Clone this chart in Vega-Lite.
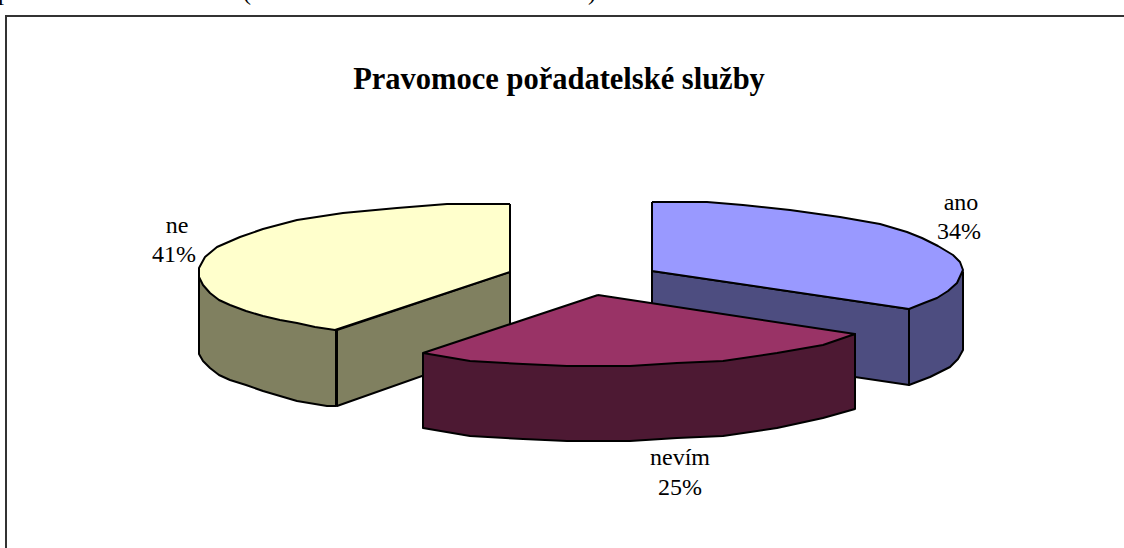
{"$schema":"https://vega.github.io/schema/vega-lite/v6.json","width":1124,"height":548,"autosize":{"type":"none"},"padding":0,"background":"white","view":{"stroke":null},
"datasets":{"shapes":[
{"p":"ne inner","f":"ne side","s":1,"x":337,"y":330},{"p":"ne inner","f":"ne side","s":2,"x":510,"y":272},{"p":"ne inner","f":"ne side","s":3,"x":510,"y":345},{"p":"ne inner","f":"ne side","s":4,"x":337,"y":406},{"p":"ne inner","f":"ne side","s":5,"x":337,"y":330},
{"p":"ne outer","f":"ne side","s":1,"x":199,"y":268},{"p":"ne outer","f":"ne side","s":2,"x":199,"y":354},{"p":"ne outer","f":"ne side","s":3,"x":203,"y":361},{"p":"ne outer","f":"ne side","s":4,"x":210,"y":368},{"p":"ne outer","f":"ne side","s":5,"x":219,"y":375},{"p":"ne outer","f":"ne side","s":6,"x":230,"y":380},{"p":"ne outer","f":"ne side","s":7,"x":246,"y":385},{"p":"ne outer","f":"ne side","s":8,"x":263,"y":391},{"p":"ne outer","f":"ne side","s":9,"x":280,"y":396},{"p":"ne outer","f":"ne side","s":10,"x":297,"y":401},{"p":"ne outer","f":"ne side","s":11,"x":327,"y":406},{"p":"ne outer","f":"ne side","s":12,"x":336,"y":406},{"p":"ne outer","f":"ne side","s":13,"x":336,"y":330},{"p":"ne outer","f":"ne side","s":14,"x":199,"y":268},
{"p":"ne top","f":"ne top","s":1,"x":510,"y":204},{"p":"ne top","f":"ne top","s":2,"x":510,"y":272},{"p":"ne top","f":"ne top","s":3,"x":335,"y":330},{"p":"ne top","f":"ne top","s":4,"x":315,"y":327},{"p":"ne top","f":"ne top","s":5,"x":297,"y":323},{"p":"ne top","f":"ne top","s":6,"x":280,"y":320},{"p":"ne top","f":"ne top","s":7,"x":263,"y":316},{"p":"ne top","f":"ne top","s":8,"x":246,"y":311},{"p":"ne top","f":"ne top","s":9,"x":230,"y":305},{"p":"ne top","f":"ne top","s":10,"x":219,"y":300},{"p":"ne top","f":"ne top","s":11,"x":210,"y":293},{"p":"ne top","f":"ne top","s":12,"x":203,"y":285},{"p":"ne top","f":"ne top","s":13,"x":199,"y":277},{"p":"ne top","f":"ne top","s":14,"x":199,"y":268},{"p":"ne top","f":"ne top","s":15,"x":205,"y":257},{"p":"ne top","f":"ne top","s":16,"x":217,"y":247},{"p":"ne top","f":"ne top","s":17,"x":240,"y":237},{"p":"ne top","f":"ne top","s":18,"x":263,"y":229},{"p":"ne top","f":"ne top","s":19,"x":297,"y":220},{"p":"ne top","f":"ne top","s":20,"x":343,"y":213},{"p":"ne top","f":"ne top","s":21,"x":397,"y":208},{"p":"ne top","f":"ne top","s":22,"x":447,"y":204},{"p":"ne top","f":"ne top","s":23,"x":510,"y":204},
{"p":"ano inner","f":"ano side","s":1,"x":652,"y":271},{"p":"ano inner","f":"ano side","s":2,"x":909,"y":309},{"p":"ano inner","f":"ano side","s":3,"x":909,"y":385},{"p":"ano inner","f":"ano side","s":4,"x":652,"y":347},{"p":"ano inner","f":"ano side","s":5,"x":652,"y":271},
{"p":"ano outer","f":"ano side","s":1,"x":909,"y":309},{"p":"ano outer","f":"ano side","s":2,"x":963,"y":272},{"p":"ano outer","f":"ano side","s":3,"x":963,"y":350},{"p":"ano outer","f":"ano side","s":4,"x":958,"y":359},{"p":"ano outer","f":"ano side","s":5,"x":950,"y":367},{"p":"ano outer","f":"ano side","s":6,"x":930,"y":377},{"p":"ano outer","f":"ano side","s":7,"x":909,"y":385},{"p":"ano outer","f":"ano side","s":8,"x":909,"y":309},
{"p":"ano top","f":"ano top","s":1,"x":652,"y":202},{"p":"ano top","f":"ano top","s":2,"x":707,"y":202},{"p":"ano top","f":"ano top","s":3,"x":743,"y":205},{"p":"ano top","f":"ano top","s":4,"x":790,"y":210},{"p":"ano top","f":"ano top","s":5,"x":840,"y":217},{"p":"ano top","f":"ano top","s":6,"x":880,"y":224},{"p":"ano top","f":"ano top","s":7,"x":907,"y":232},{"p":"ano top","f":"ano top","s":8,"x":922,"y":238},{"p":"ano top","f":"ano top","s":9,"x":938,"y":246},{"p":"ano top","f":"ano top","s":10,"x":953,"y":255},{"p":"ano top","f":"ano top","s":11,"x":960,"y":262},{"p":"ano top","f":"ano top","s":12,"x":963,"y":270},{"p":"ano top","f":"ano top","s":13,"x":957,"y":283},{"p":"ano top","f":"ano top","s":14,"x":948,"y":291},{"p":"ano top","f":"ano top","s":15,"x":937,"y":298},{"p":"ano top","f":"ano top","s":16,"x":924,"y":303},{"p":"ano top","f":"ano top","s":17,"x":909,"y":309},{"p":"ano top","f":"ano top","s":18,"x":652,"y":271},{"p":"ano top","f":"ano top","s":19,"x":652,"y":202},
{"p":"nevim side","f":"nevim side","s":1,"x":423,"y":353},{"p":"nevim side","f":"nevim side","s":2,"x":423,"y":428},{"p":"nevim side","f":"nevim side","s":3,"x":470,"y":436},{"p":"nevim side","f":"nevim side","s":4,"x":523,"y":439},{"p":"nevim side","f":"nevim side","s":5,"x":567,"y":441},{"p":"nevim side","f":"nevim side","s":6,"x":630,"y":441},{"p":"nevim side","f":"nevim side","s":7,"x":677,"y":438},{"p":"nevim side","f":"nevim side","s":8,"x":723,"y":436},{"p":"nevim side","f":"nevim side","s":9,"x":777,"y":428},{"p":"nevim side","f":"nevim side","s":10,"x":823,"y":418},{"p":"nevim side","f":"nevim side","s":11,"x":855,"y":409},{"p":"nevim side","f":"nevim side","s":12,"x":855,"y":334},{"p":"nevim side","f":"nevim side","s":13,"x":423,"y":353},
{"p":"nevim top","f":"nevim top","s":1,"x":598,"y":295},{"p":"nevim top","f":"nevim top","s":2,"x":855,"y":334},{"p":"nevim top","f":"nevim top","s":3,"x":823,"y":345},{"p":"nevim top","f":"nevim top","s":4,"x":777,"y":353},{"p":"nevim top","f":"nevim top","s":5,"x":723,"y":361},{"p":"nevim top","f":"nevim top","s":6,"x":677,"y":363},{"p":"nevim top","f":"nevim top","s":7,"x":630,"y":366},{"p":"nevim top","f":"nevim top","s":8,"x":567,"y":366},{"p":"nevim top","f":"nevim top","s":9,"x":523,"y":364},{"p":"nevim top","f":"nevim top","s":10,"x":470,"y":361},{"p":"nevim top","f":"nevim top","s":11,"x":423,"y":353},{"p":"nevim top","f":"nevim top","s":12,"x":598,"y":295}
],
"labels":[{"t":"ne","x":177,"y":226},{"t":"41%","x":174,"y":255},{"t":"ano","x":961,"y":203},{"t":"34%","x":959,"y":232},{"t":"nevím","x":680,"y":458},{"t":"25%","x":680,"y":488}],
"cut":[{"t":"p","x":4,"y":0},{"t":"(","x":247,"y":0},{"t":")","x":592,"y":0}],
"frame":[{"s":1,"x":6,"y":548},{"s":2,"x":6,"y":16},{"s":3,"x":1124,"y":16}],
"title":[{"t":"Pravomoce pořadatelské služby","x":559,"y":80}]},
"encoding":{"x":{"field":"x","type":"quantitative","scale":{"domain":[0,1124],"nice":false,"zero":false},"axis":null},"y":{"field":"y","type":"quantitative","scale":{"domain":[548,0],"nice":false,"zero":false},"axis":null}},
"layer":[
{"data":{"name":"frame"},"mark":{"type":"line","stroke":"#333333","strokeWidth":2,"clip":false},"encoding":{"order":{"field":"s","type":"ordinal"}}},
{"data":{"name":"shapes"},"mark":{"type":"line","filled":true,"stroke":"#000000","strokeWidth":2,"strokeJoin":"round"},"encoding":{"detail":{"field":"p"},"order":{"field":"s","type":"quantitative"},"color":{"field":"f","type":"nominal","legend":null,"scale":{"domain":["ne side","ne top","ano side","ano top","nevim side","nevim top"],"range":["#808060","#FFFFCC","#4D4D80","#9999FF","#4D1933","#993366"]}}}},
{"data":{"name":"labels"},"mark":{"type":"text","font":"Liberation Serif","fontSize":24,"baseline":"middle","align":"center","color":"#000000"},"encoding":{"text":{"field":"t"}}},
{"data":{"name":"cut"},"mark":{"type":"text","font":"Liberation Serif","fontSize":24,"baseline":"alphabetic","align":"center","color":"#000000","clip":false},"encoding":{"text":{"field":"t"}}},
{"data":{"name":"title"},"mark":{"type":"text","font":"Liberation Serif","fontSize":30.5,"fontWeight":"bold","baseline":"middle","align":"center","color":"#000000"},"encoding":{"text":{"field":"t"}}}
]}
